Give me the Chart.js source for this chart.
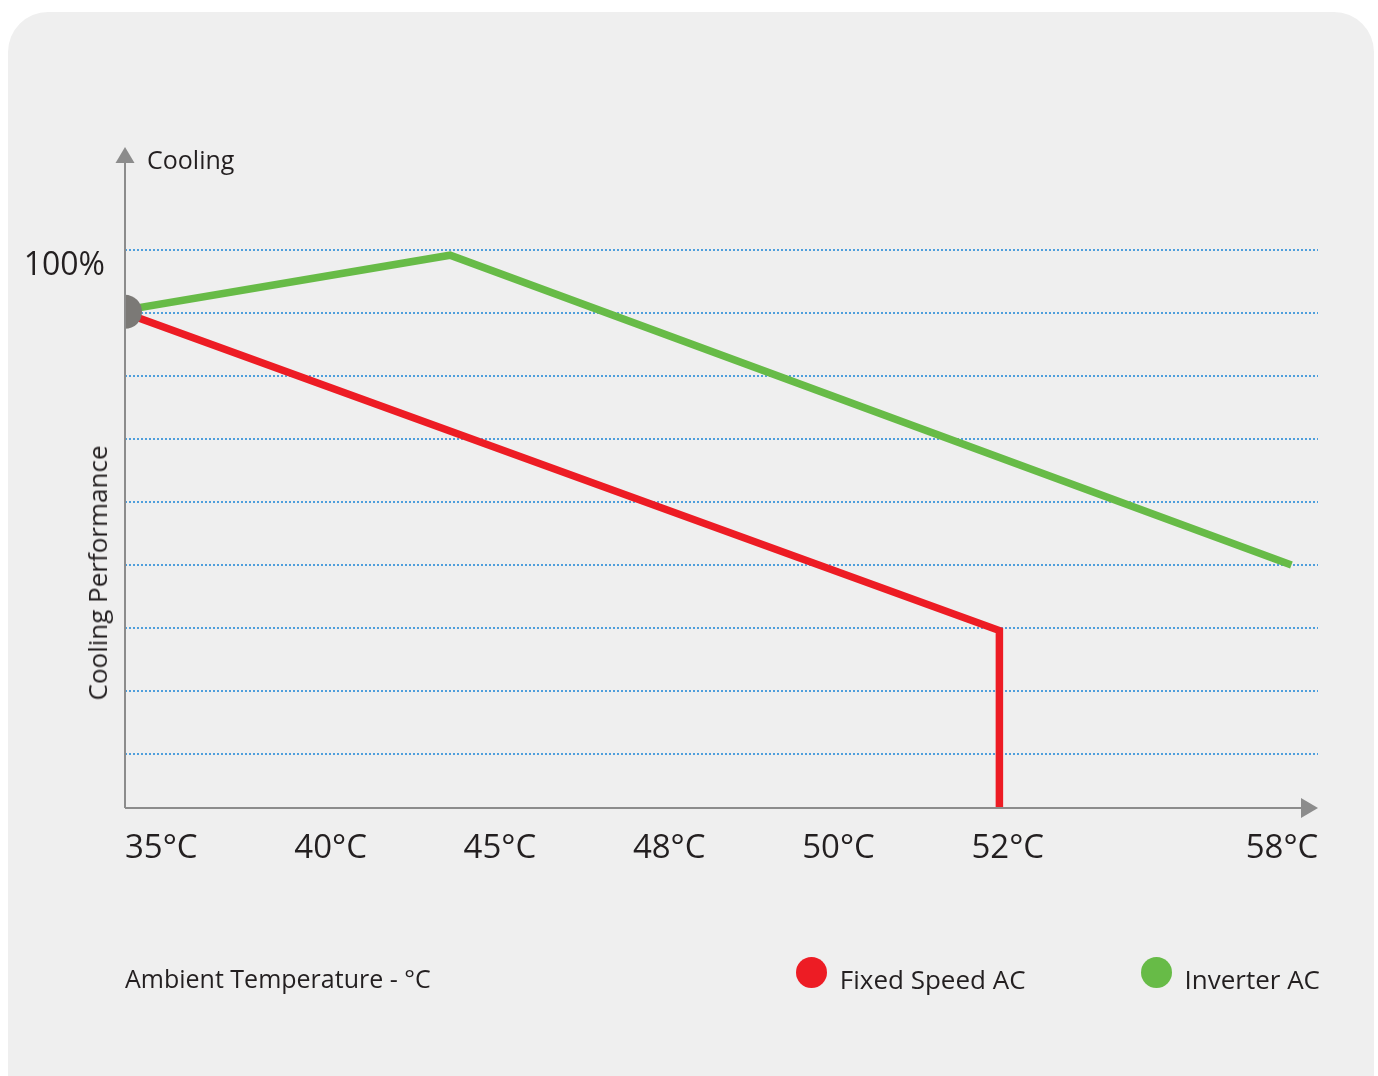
<!DOCTYPE html>
<html>
<head>
<meta charset="utf-8">
<script src="https://cdn.jsdelivr.net/npm/chart.js@4"></script>
<style>
  html, body { margin: 0; padding: 0; background: #fff; }
  #wrap { position: relative; width: 1378px; height: 1076px; overflow: hidden; font-family: "Open Sans", sans-serif; color: #231f20; }
  #card { position: absolute; left: 8px; top: 12px; width: 1366px; height: 1120px; background: #efefef; border-radius: 40px; }
  #cv { position: absolute; left: 0; top: 0; }
  .lbl { position: absolute; white-space: nowrap; font-size: 25px; line-height: 1; }
  #yTitle { left: 97px; top: 573px; transform: translate(-50%, -50%) rotate(-90deg); font-size: 26px; }
  #topTitle { left: 147px; top: 147px; }
  #legend { position: absolute; right: 58px; top: 957px; display: flex; gap: 115px; font-size: 26px; }
  .item { display: flex; align-items: flex-start; }
  .dot { width: 31px; height: 31px; border-radius: 50%; margin-right: 13px; }
  .item span { padding-top: 9px; line-height: 1; }
</style>
</head>
<body>
<div id="wrap">
  <div id="card"></div>
  <canvas id="cv" width="1378" height="1076"></canvas>
  <div class="lbl" id="topTitle">Cooling</div>
  <div class="lbl" id="yTitle">Cooling Performance</div>
  <div id="legend"></div>
</div>
<script>
/***** 데이터 *****/
// x축: 눈금 간격 단위(35°C=0, 40°C=1 ...), 라벨 간격이 온도에 비례하지 않음
const tempLabels = ["35°C", "40°C", "45°C", "48°C", "50°C", "52°C", "58°C"];
const tempTickPos = [0, 1, 2, 3, 4, 5, 6.62];
const X_MAX = 7.047;

// y축: 성능(%) — 점선 격자 10% 간격
const gridLevels = [20, 30, 40, 50, 60, 70, 80, 90, 100];
const Y_MIN = 11.43, Y_MAX = 115.9;

const inverterX = [0, 1.92, 6.89];
const inverterY = [90.5, 99.2, 50];
const fixedX = [0, 5.165, 5.165];
const fixedY = [90, 39.6, 11.43];
const startX = [0];
const startY = [90.2];

/***** 색 *****/
const RED = "#ed1c24";
const GREEN = "#67bb47";
const GREY = "#7b7976";
const AXIS = "#8c8c8c";
const GRID = "#4f9fdc";
const TEXT = "#231f20";
const FONT = "'Open Sans', sans-serif";

const pts = (xs, ys) => xs.map((x, i) => ({ x, y: ys[i] }));

// 축 선 + 화살표
const axisArrows = {
  id: "axisArrows",
  afterDatasetsDraw(chart){
    const { ctx, chartArea: a } = chart;
    ctx.save();
    ctx.strokeStyle = AXIS;
    ctx.fillStyle = AXIS;
    ctx.lineWidth = 2;
    ctx.beginPath();
    ctx.moveTo(a.left, a.bottom);
    ctx.lineTo(a.left, a.top + 8);
    ctx.moveTo(a.left, a.bottom);
    ctx.lineTo(a.right - 10, a.bottom);
    ctx.stroke();
    // y 화살표
    ctx.beginPath();
    ctx.moveTo(a.left, a.top - 3);
    ctx.lineTo(a.left - 9.5, a.top + 13);
    ctx.lineTo(a.left + 9.5, a.top + 13);
    ctx.closePath();
    ctx.fill();
    // x 화살표
    ctx.beginPath();
    ctx.moveTo(a.right, a.bottom);
    ctx.lineTo(a.right - 17, a.bottom - 10);
    ctx.lineTo(a.right - 17, a.bottom + 10);
    ctx.closePath();
    ctx.fill();
    ctx.restore();
  }
};

const chart = new Chart(document.getElementById("cv"), {
  type: "line",
  data: {
    datasets: [
      {
        label: "Start",
        data: pts(startX, startY),
        showLine: false,
        pointRadius: 17,
        pointBackgroundColor: GREY,
        pointBorderWidth: 0,
        clip: 0,
        order: 0
      },
      {
        label: "Fixed Speed AC",
        data: pts(fixedX, fixedY),
        borderColor: RED,
        backgroundColor: RED,
        borderWidth: 7.5,
        borderJoinStyle: "miter",
        pointRadius: 0,
        tension: 0,
        clip: 0,
        order: 1
      },
      {
        label: "Inverter AC",
        data: pts(inverterX, inverterY),
        borderColor: GREEN,
        backgroundColor: GREEN,
        borderWidth: 7.5,
        borderJoinStyle: "miter",
        pointRadius: 0,
        tension: 0,
        order: 2
      }
    ]
  },
  options: {
    responsive: false,
    animation: false,
    devicePixelRatio: 1,
    layout: { padding: { left: 0, right: 60, top: 150, bottom: 0 } },
    plugins: {
      legend: { display: false },
      tooltip: { enabled: false }
    },
    scales: {
      x: {
        type: "linear",
        min: 0,
        max: X_MAX,
        grid: { display: false, drawTicks: false },
        border: { display: false },
        afterBuildTicks: (s) => { s.ticks = tempTickPos.map(v => ({ value: v })); },
        afterFit: (s) => { s.height = 268; s.paddingLeft = 0; s.paddingRight = 0; },
        ticks: {
          autoSkip: false,
          maxRotation: 0,
          align: "start",
          padding: 21,
          color: TEXT,
          font: { family: FONT, size: 33 },
          callback: (v, i) => tempLabels[i]
        },
        title: {
          display: true,
          text: "Ambient Temperature - °C",
          align: "start",
          color: TEXT,
          font: { family: FONT, size: 25 },
          padding: { top: 0, bottom: 80 }
        }
      },
      y: {
        type: "linear",
        min: Y_MIN,
        max: Y_MAX,
        grid: { color: GRID, lineWidth: 2, drawTicks: false },
        border: { display: false, dash: [2, 2] },
        afterBuildTicks: (s) => { s.ticks = gridLevels.map(v => ({ value: v })); },
        afterFit: (s) => { s.width = 125; s.paddingTop = 0; s.paddingBottom = 0; },
        ticks: {
          padding: 20,
          labelOffset: 16,
          color: TEXT,
          font: { family: FONT, size: 32 },
          callback: (v) => v === 100 ? "100%" : ""
        }
      }
    }
  },
  plugins: [axisArrows]
});

// HTML 범례 (데이터셋에서 생성)
const legendEl = document.getElementById("legend");
chart.data.datasets.filter(d => d.label !== "Start").forEach(d => {
  const item = document.createElement("div");
  item.className = "item";
  item.innerHTML = `<div class="dot" style="background:${d.borderColor}"></div><span>${d.label}</span>`;
  legendEl.appendChild(item);
});
</script>
</body>
</html>
